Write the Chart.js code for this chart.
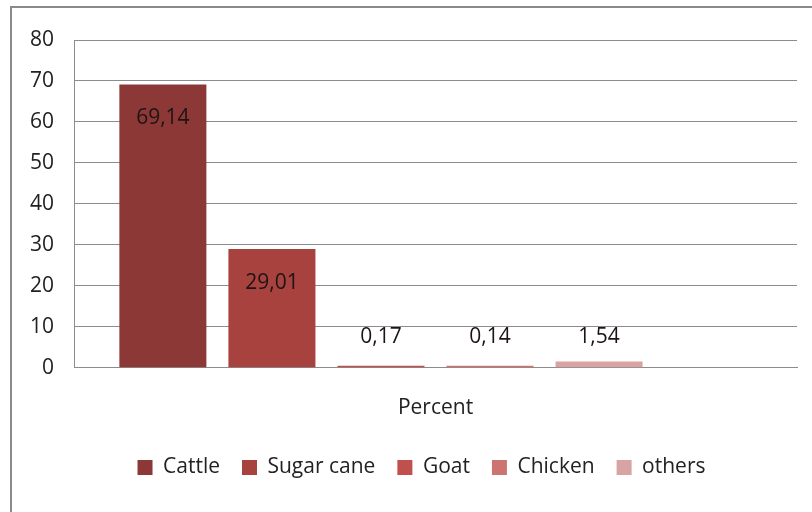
<!DOCTYPE html>
<html>
<head>
<meta charset="utf-8">
<script src="https://cdn.jsdelivr.net/npm/chart.js@4.4.1/dist/chart.umd.min.js"></script>
<style>
  html, body { margin: 0; padding: 0; background: #fff; }
  #wrap { position: absolute; left: 0; top: 0; width: 812px; height: 512px; }
  #frame { position: absolute; left: 10px; top: 6px; width: 900px; height: 600px;
           border-top: 2px solid #8a8a8a; border-left: 2px solid #8a8a8a; }
</style>
</head>
<body>
<div id="wrap">
  <div id="frame"></div>
  <canvas id="chart" width="812" height="512"></canvas>
</div>
<script>
// datos
const categorias = ['Percent'];
const series = ['Cattle', 'Sugar cane', 'Goat', 'Chicken', 'others', ''];
const valores = [69.14, 29.01, 0.17, 0.14, 1.54, null];
const colores = ['#8c3836', '#a8423f', '#c0504d', '#cd7472', '#d9a3a4', '#e6c7c7'];
const yTicks = [0, 10, 20, 30, 40, 50, 60, 70, 80];

const fuente = "'Open Sans', 'Noto Sans', sans-serif";

// etiquetas de valor estilo Excel (coma decimal)
const etiquetas = {
  id: 'etiquetas',
  afterDatasetsDraw(chart) {
    const ctx = chart.ctx;
    const base = chart.scales.y.getPixelForValue(0);
    ctx.save();
    ctx.font = '21px ' + fuente;
    ctx.fillStyle = '#1e1414';
    ctx.textAlign = 'center';
    ctx.textBaseline = 'middle';
    chart.data.datasets.forEach((ds, i) => {
      const v = ds.data[0];
      if (v === null || v === undefined) return;
      const bar = chart.getDatasetMeta(i).data[0];
      const y = Math.min(bar.y + 34, base - 31);
      ctx.fillText(v.toFixed(2).replace('.', ','), bar.x, y);
    });
    ctx.restore();
  }
};

// la leyenda del original esta algo desplazada a la derecha
const moverLeyenda = {
  id: 'moverLeyenda',
  afterUpdate(chart) {
    chart.legend.left += 18;
    chart.legend.right += 18;
  }
};

new Chart(document.getElementById('chart').getContext('2d'), {
  type: 'bar',
  data: {
    labels: categorias,
    datasets: series.map((s, i) => ({
      label: s,
      data: [valores[i]],
      backgroundColor: colores[i],
      borderWidth: 0,
      minBarLength: 2,
      categoryPercentage: 0.905,
      barPercentage: 0.798
    }))
  },
  options: {
    responsive: false,
    animation: false,
    layout: { padding: { left: 10, right: 15, top: 40, bottom: 24 } },
    scales: {
      y: {
        min: 0,
        max: 80,
        afterBuildTicks(axis) { axis.ticks = yTicks.map(v => ({ value: v })); },
        afterFit(axis) { axis.width = 64; },
        ticks: { color: '#222', font: { family: fuente, size: 21 }, padding: 20 },
        grid: { color: '#8c8c8c', lineWidth: 1, drawTicks: false },
        border: { color: '#8c8c8c', width: 1 }
      },
      x: {
        afterFit(axis) { axis.height -= 6; },
        ticks: { color: '#222', font: { family: fuente, size: 21 }, padding: 20 },
        grid: { display: false },
        border: { color: '#8c8c8c', width: 1 }
      }
    },
    plugins: {
      legend: {
        position: 'bottom',
        labels: {
          filter: item => item.text !== '',
          color: '#222',
          font: { family: fuente, size: 21 },
          boxWidth: 15,
          boxHeight: 15,
          padding: 22
        }
      },
      tooltip: { enabled: false }
    }
  },
  plugins: [etiquetas, moverLeyenda]
});
</script>
</body>
</html>
